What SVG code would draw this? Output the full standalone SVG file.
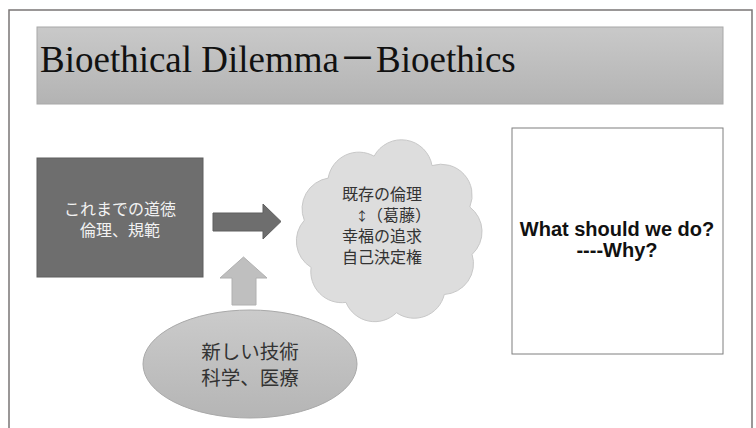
<svg xmlns="http://www.w3.org/2000/svg" width="756" height="428" viewBox="0 0 756 428">
  <defs>
    <linearGradient id="titleGrad" x1="0" y1="0" x2="0" y2="1">
      <stop offset="0" stop-color="#c9c9c9"/>
      <stop offset="1" stop-color="#b3b3b3"/>
    </linearGradient>
    <linearGradient id="ellGrad" x1="0" y1="0" x2="0" y2="1">
      <stop offset="0" stop-color="#cbcbcb"/>
      <stop offset="1" stop-color="#b5b5b5"/>
    </linearGradient>
    <style>
      .jp { font-family: "Noto Sans CJK JP", "Noto Sans", sans-serif; }
      .dark { fill: #6e6e6e; stroke: #5e5e5e; stroke-width: 1; }
    </style>
  </defs>
  <rect x="0" y="0" width="756" height="428" fill="#ffffff"/>
  <rect id="frame" x="9" y="10" width="743" height="440" fill="#ffffff" stroke="#7a7676" stroke-width="1.5"/>

  <g id="title">
    <rect x="37" y="27" width="686" height="77" fill="url(#titleGrad)" stroke="#a8a8a8" stroke-width="1"/>
    <text x="40" y="72" font-family="'Liberation Serif', 'Noto Sans CJK JP', serif" font-size="37" fill="#111111">Bioethical Dilemma－Bioethics</text>
  </g>

  <g id="node-old-morals">
    <rect class="dark" x="37" y="158" width="166" height="119"/>
    <text class="jp" x="120" y="215" font-size="16" fill="#f2f2f2" text-anchor="middle">これまでの道徳</text>
    <text class="jp" x="120" y="236" font-size="16" fill="#f2f2f2" text-anchor="middle">倫理、規範</text>
  </g>

  <g id="node-dilemma">
    <path d="M374.1,156.2 A31,31 0 0 1 432,165.6 A31,31 0 0 1 469.8,207 A31,31 0 0 1 472.1,254.4 A31,31 0 0 1 444.3,294.5 A31,31 0 0 1 396.5,312.7 A31,31 0 0 1 346,302.4 A31,31 0 0 1 311.1,267.4 A31,31 0 0 1 304.3,220.3 A31,31 0 0 1 328.2,178.1 A31,31 0 0 1 374.1,156.2 Z" fill="#dddddd" stroke="#c8c8c8" stroke-width="1"/>
    <g class="jp" font-size="16" fill="#333333">
      <text x="342" y="200">既存の倫理</text>
      <text x="362" y="221" font-size="13" text-anchor="middle">↕</text>
      <text x="367" y="221">（葛藤）</text>
      <text x="342" y="242">幸福の追求</text>
      <text x="342" y="263">自己決定権</text>
    </g>
  </g>

  <g id="node-question">
    <rect x="512" y="128" width="211" height="226" fill="#ffffff" stroke="#7f7f7f" stroke-width="1"/>
    <text x="617" y="236" font-family="'Liberation Sans', Arial, sans-serif" font-weight="bold" font-size="20" fill="#111111" text-anchor="middle">What should we do?</text>
    <text x="617" y="257" font-family="'Liberation Sans', Arial, sans-serif" font-weight="bold" font-size="20" fill="#111111" text-anchor="middle">----Why?</text>
  </g>

  <g id="node-new-tech">
    <ellipse cx="250" cy="364" rx="107" ry="54" fill="url(#ellGrad)" stroke="#a9a9a9" stroke-width="1"/>
    <text class="jp" x="250" y="359" font-size="19.5" fill="#333333" text-anchor="middle">新しい技術</text>
    <text class="jp" x="250" y="385" font-size="19.5" fill="#333333" text-anchor="middle">科学、医療</text>
  </g>

  <g id="connectors">
    <polygon class="dark" points="213,213 263,213 263,204 281,221.5 263,239 263,231 213,231"/>
    <polygon points="232,305 232,278 220,278 243.5,257 267,278 256,278 256,305" fill="#bfbfbf" stroke="#b0b0b0" stroke-width="1"/>
  </g>
</svg>
